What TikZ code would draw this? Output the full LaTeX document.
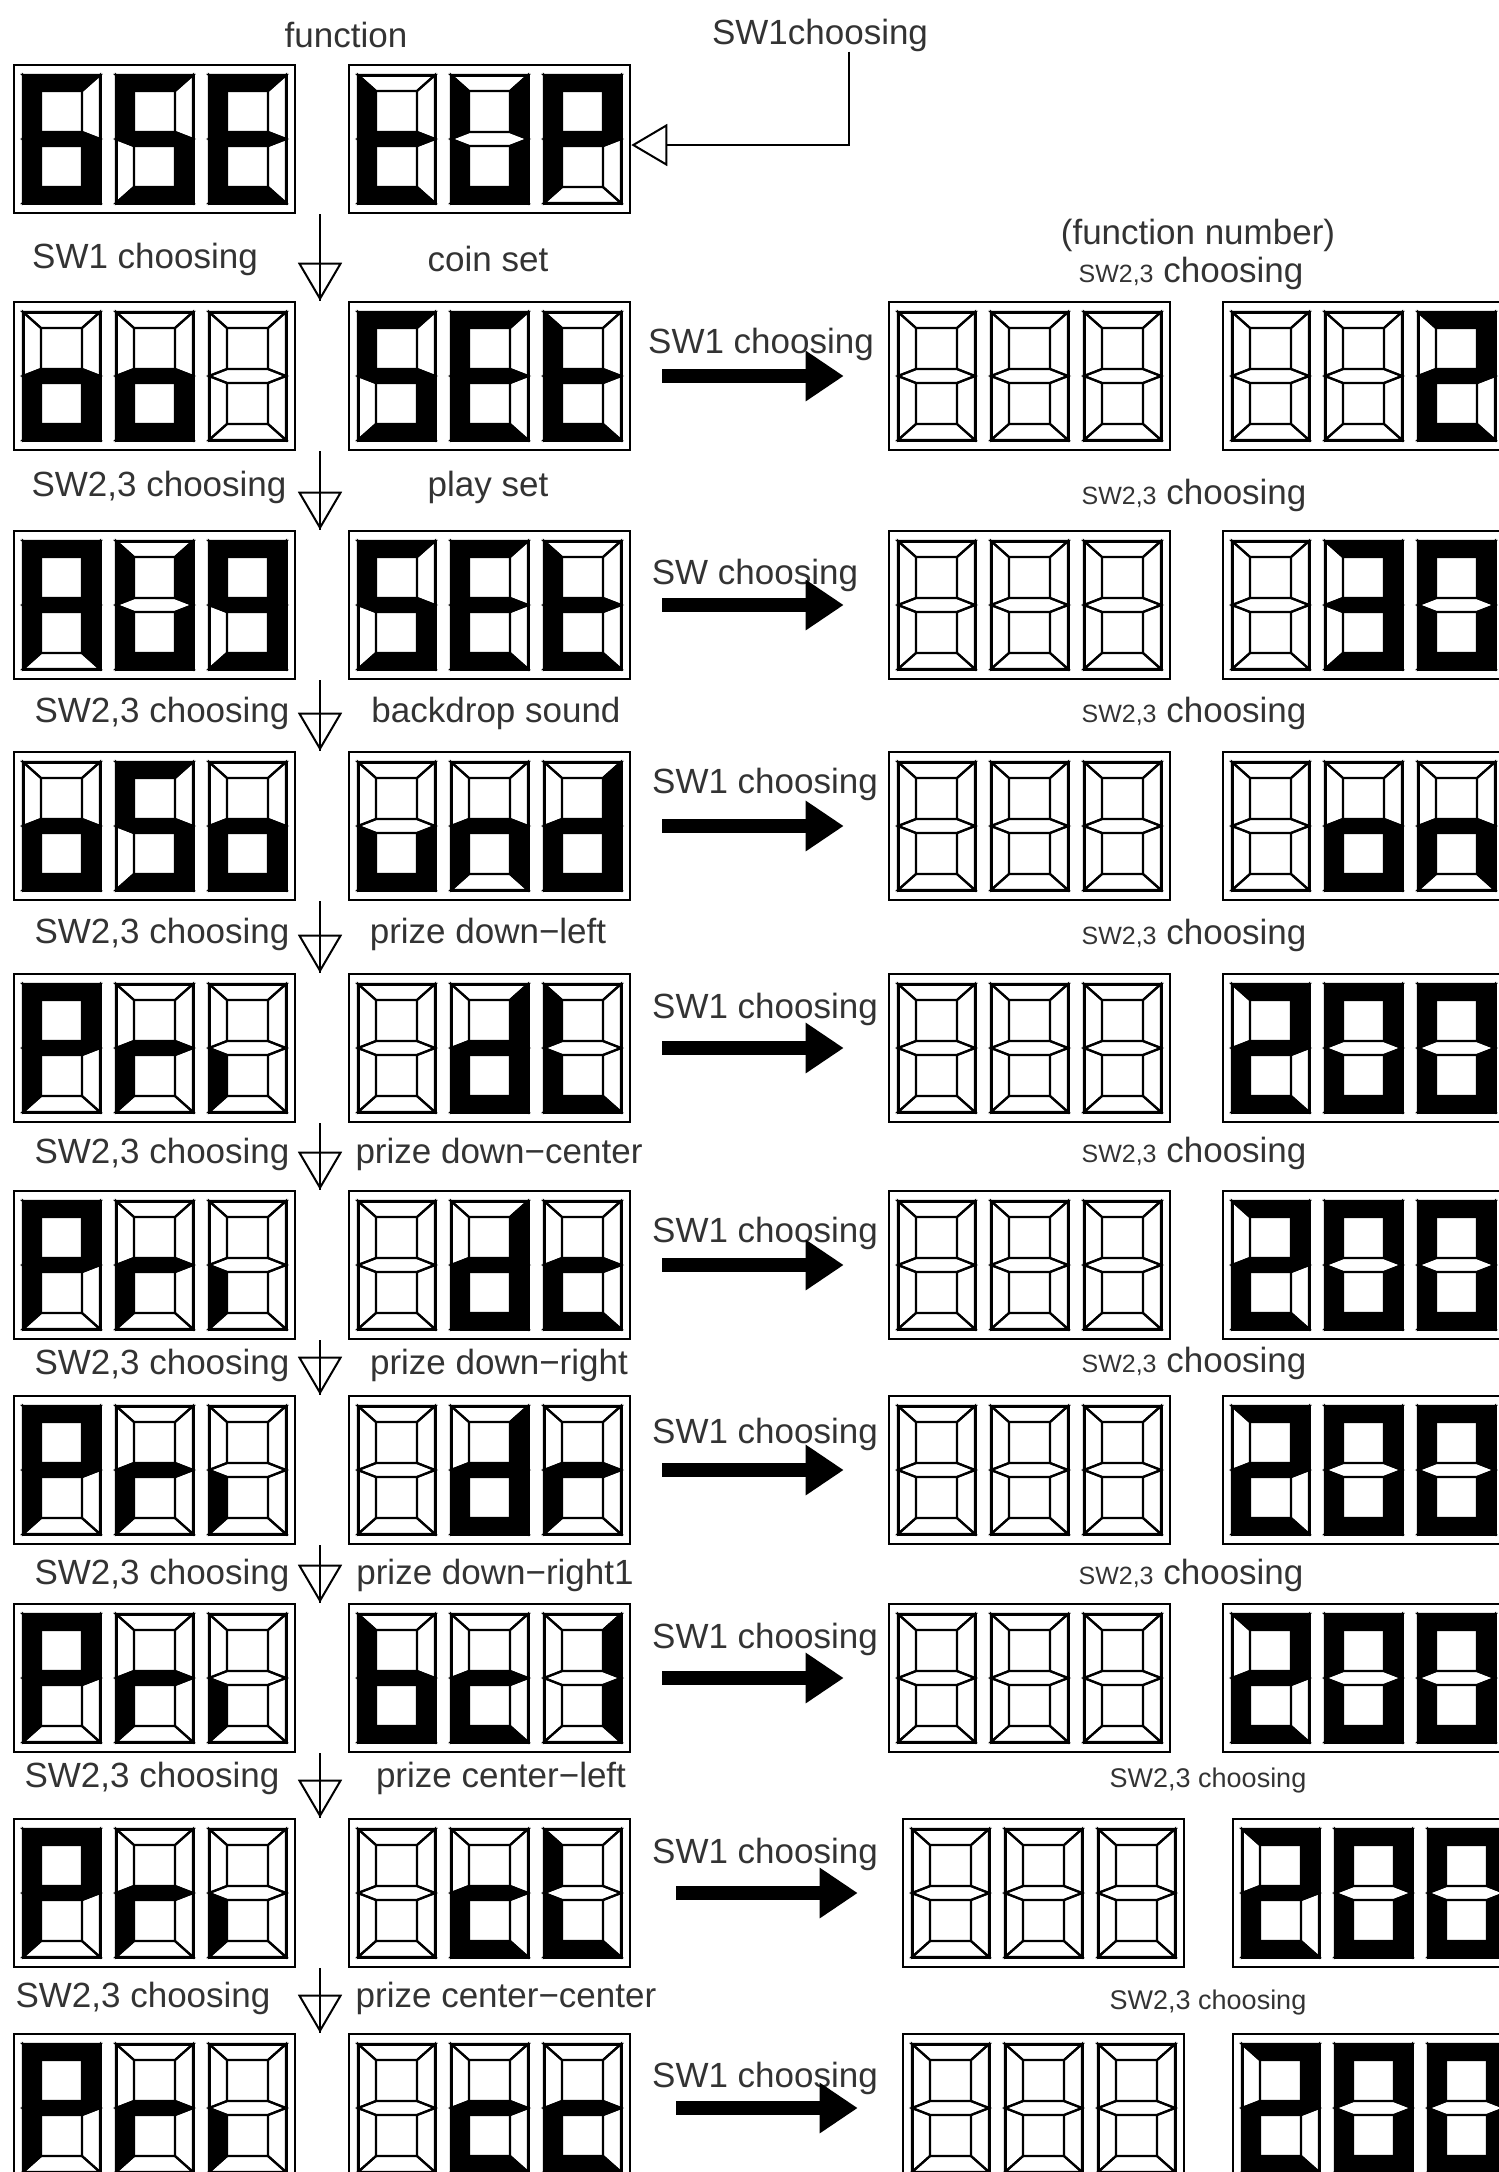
\documentclass[tikz,border=0pt]{standalone}
\usepackage{fontspec}
\setmainfont{Liberation Sans}
\usepackage{tikz}
\usetikzlibrary{arrows.meta}

% segment patterns a b c d e f g
\def\sgx{0000000}
\def\sgsix{1011111}
\def\sgS{1011011}
\def\sgE{1001111}
\def\sgt{0001111}
\def\sgU{0111110}
\def\sgP{1100111}
\def\sgo{0011101}
\def\sgA{1110111}
\def\sgnine{1111011}
\def\sgu{0011100}
\def\sgn{0010101}
\def\sgd{0111101}
\def\sgr{0000101}
\def\sgi{0000100}
\def\sgL{0001110}
\def\sgc{0001101}
\def\sgb{0011111}
\def\sgone{0110000}
\def\sgtwo{1101101}
\def\sgthree{1111001}
\def\sgzero{1111110}

\tikzset{
  seg0/.style={draw=black,line width=2.2},
  seg1/.style={fill=black,draw=black,line width=2.2},
  dbox/.style={draw,line width=2.6,minimum width=281pt,minimum height=148pt,inner sep=0pt},
  lbl/.style={font=\fontsize{35}{40}\selectfont,text=black!80,inner sep=0pt},
  sml/.style={font=\fontsize{27}{30}\selectfont,text=black!80,inner sep=0pt},
  downarr/.style={line width=2,-{Triangle[open,length=38pt,width=44pt]},postaction={draw,-}},
  selarr/.style={line width=2,-{Triangle[open,length=36pt,width=42pt]}},
  bigarr/.style={line width=14,-{Triangle[length=38pt,width=48pt]},shorten <=31pt,shorten >=44pt}
}

\newcommand\dsegs[8]{%
  \begin{scope}[shift={#1}]
    \path[seg#2] (0,0) -- (77,0) -- (59,16) -- (18,16) -- cycle;
    \path[seg#3] (77,0) -- (77,64) -- (59,57) -- (59,16) -- cycle;
    \path[seg#4] (77,64) -- (77,128) -- (59,112) -- (59,71) -- cycle;
    \path[seg#5] (0,128) -- (18,112) -- (59,112) -- (77,128) -- cycle;
    \path[seg#6] (0,64) -- (18,71) -- (18,112) -- (0,128) -- cycle;
    \path[seg#7] (0,0) -- (18,16) -- (18,57) -- (0,64) -- cycle;
    \path[seg#8] (0,64) -- (18,57) -- (59,57) -- (77,64) -- (59,71) -- (18,71) -- cycle;
    \draw[line width=3] (0,0) rectangle (77,128);
  \end{scope}}
\newcommand\dig[2]{\edef\dtmp{\noexpand\dsegs{#1}#2}\dtmp}
\newcommand\disp[6]{%
  \node[dbox] (#1) at (#2+140.5,#3+74) {};
  \dig{(#2+9,#3+10)}{#4}
  \dig{(#2+102,#3+10)}{#5}
  \dig{(#2+195,#3+10)}{#6}}
\newcommand\swlbl{{\fontsize{25}{28}\selectfont SW2,3}\ choosing}

\begin{document}
\begin{tikzpicture}[x=1pt,y=-1pt]
  \useasboundingbox (0,0) rectangle (1499,2172);
  \clip (0,0) rectangle (1499,2172);
  \coordinate (ax) at (320,0);
  \coordinate (vx) at (849,0);

  % function displays
  \disp{L0}{14}{65}{\sgsix}{\sgS}{\sgE}
  \disp{R0}{349}{65}{\sgt}{\sgU}{\sgP}
  \disp{L1}{14}{302}{\sgo}{\sgo}{\sgx}
  \disp{R1}{349}{302}{\sgS}{\sgE}{\sgt}
  \disp{L2}{14}{531}{\sgA}{\sgU}{\sgnine}
  \disp{R2}{349}{531}{\sgS}{\sgE}{\sgt}
  \disp{L3}{14}{752}{\sgo}{\sgS}{\sgo}
  \disp{R3}{349}{752}{\sgu}{\sgn}{\sgd}
  \disp{L4}{14}{974}{\sgP}{\sgr}{\sgi}
  \disp{R4}{349}{974}{\sgx}{\sgd}{\sgL}
  \disp{L5}{14}{1191}{\sgP}{\sgr}{\sgi}
  \disp{R5}{349}{1191}{\sgx}{\sgd}{\sgc}
  \disp{L6}{14}{1396}{\sgP}{\sgr}{\sgi}
  \disp{R6}{349}{1396}{\sgx}{\sgd}{\sgr}
  \disp{L7}{14}{1604}{\sgP}{\sgr}{\sgi}
  \disp{R7}{349}{1604}{\sgb}{\sgc}{\sgone}
  \disp{L8}{14}{1819}{\sgP}{\sgr}{\sgi}
  \disp{R8}{349}{1819}{\sgx}{\sgc}{\sgL}
  \disp{L9}{14}{2034}{\sgP}{\sgr}{\sgi}
  \disp{R9}{349}{2034}{\sgx}{\sgc}{\sgc}

  % number displays
  \disp{N1}{889}{302}{\sgx}{\sgx}{\sgx}
  \disp{V1}{1223}{302}{\sgx}{\sgx}{\sgtwo}
  \disp{N2}{889}{531}{\sgx}{\sgx}{\sgx}
  \disp{V2}{1223}{531}{\sgx}{\sgthree}{\sgzero}
  \disp{N3}{889}{752}{\sgx}{\sgx}{\sgx}
  \disp{V3}{1223}{752}{\sgx}{\sgo}{\sgn}
  \disp{N4}{889}{974}{\sgx}{\sgx}{\sgx}
  \disp{V4}{1223}{974}{\sgtwo}{\sgzero}{\sgzero}
  \disp{N5}{889}{1191}{\sgx}{\sgx}{\sgx}
  \disp{V5}{1223}{1191}{\sgtwo}{\sgzero}{\sgzero}
  \disp{N6}{889}{1396}{\sgx}{\sgx}{\sgx}
  \disp{V6}{1223}{1396}{\sgtwo}{\sgzero}{\sgzero}
  \disp{N7}{889}{1604}{\sgx}{\sgx}{\sgx}
  \disp{V7}{1223}{1604}{\sgtwo}{\sgzero}{\sgzero}
  \disp{N8}{903}{1819}{\sgx}{\sgx}{\sgx}
  \disp{V8}{1233}{1819}{\sgtwo}{\sgzero}{\sgzero}
  \disp{N9}{903}{2034}{\sgx}{\sgx}{\sgx}
  \disp{V9}{1233}{2034}{\sgtwo}{\sgzero}{\sgzero}

  % labels
  \node[lbl] (fn) at (346,35) {function};
  \node[lbl] (sel) at (820,35) {SW1choosing};
  \node[lbl] (s01) at (145,259) {SW1 choosing};
  \node[lbl] (f1) at (488,259) {coin set};
  \node[lbl] (s12) at (159,487) {SW2,3 choosing};
  \node[lbl] (f2) at (488,487) {play set};
  \node[lbl] (s23) at (162,713) {SW2,3 choosing};
  \node[lbl] (f3) at (496,713) {backdrop sound};
  \node[lbl] (s34) at (162,934) {SW2,3 choosing};
  \node[lbl] (f4) at (488,934) {prize down−left};
  \node[lbl] (s45) at (162,1154) {SW2,3 choosing};
  \node[lbl] (f5) at (499,1154) {prize down−center};
  \node[lbl] (s56) at (162,1365) {SW2,3 choosing};
  \node[lbl] (f6) at (499,1365) {prize down−right};
  \node[lbl] (s67) at (162,1575) {SW2,3 choosing};
  \node[lbl] (f7) at (495,1575) {prize down−right1};
  \node[lbl] (s78) at (152,1778) {SW2,3 choosing};
  \node[lbl] (f8) at (501,1778) {prize center−left};
  \node[lbl] (s89) at (143,1998) {SW2,3 choosing};
  \node[lbl] (f9) at (506,1998) {prize center−center};

  \node[lbl] (num) at (1198,235) {(function number)};
  \node[lbl] (n1) at (1191,273) {\swlbl};
  \node[lbl] (n2) at (1194,495) {\swlbl};
  \node[lbl] (n3) at (1194,713) {\swlbl};
  \node[lbl] (n4) at (1194,935) {\swlbl};
  \node[lbl] (n5) at (1194,1153) {\swlbl};
  \node[lbl] (n6) at (1194,1363) {\swlbl};
  \node[lbl] (n7) at (1191,1575) {\swlbl};
  \node[sml] (n8) at (1208,1780) {SW2,3 choosing};
  \node[sml] (n9) at (1208,2002) {SW2,3 choosing};

  \node[lbl] (a1) at (761,344) {SW1 choosing};
  \node[lbl] (a2) at (755,575) {SW choosing};
  \node[lbl] (a3) at (765,784) {SW1 choosing};
  \node[lbl] (a4) at (765,1009) {SW1 choosing};
  \node[lbl] (a5) at (765,1233) {SW1 choosing};
  \node[lbl] (a6) at (765,1434) {SW1 choosing};
  \node[lbl] (a7) at (765,1639) {SW1 choosing};
  \node[lbl] (a8) at (765,1854) {SW1 choosing};
  \node[lbl] (a9) at (765,2078) {SW1 choosing};

  % connectors
  \draw[selarr] (sel.south -| vx) |- ([yshift=-6pt]R0.east);
  \draw[downarr] (L0.south -| ax) -- (L1.north -| ax);
  \draw[downarr] (L1.south -| ax) -- (L2.north -| ax);
  \draw[downarr] (L2.south -| ax) -- (L3.north -| ax);
  \draw[downarr] (L3.south -| ax) -- (L4.north -| ax);
  \draw[downarr] (L4.south -| ax) -- (L5.north -| ax);
  \draw[downarr] (L5.south -| ax) -- (L6.north -| ax);
  \draw[downarr] (L6.south -| ax) -- (L7.north -| ax);
  \draw[downarr] (L7.south -| ax) -- (L8.north -| ax);
  \draw[downarr] (L8.south -| ax) -- (L9.north -| ax);

  \draw[bigarr] (R1) -- (N1);
  \draw[bigarr] (R2) -- (N2);
  \draw[bigarr] (R3) -- (N3);
  \draw[bigarr] (R4) -- (N4);
  \draw[bigarr] (R5) -- (N5);
  \draw[bigarr] (R6) -- (N6);
  \draw[bigarr] (R7) -- (N7);
  \draw[bigarr,shorten <=45pt] (R8) -- (N8);
  \draw[bigarr,shorten <=45pt] (R9) -- (N9);
\end{tikzpicture}
\end{document}
